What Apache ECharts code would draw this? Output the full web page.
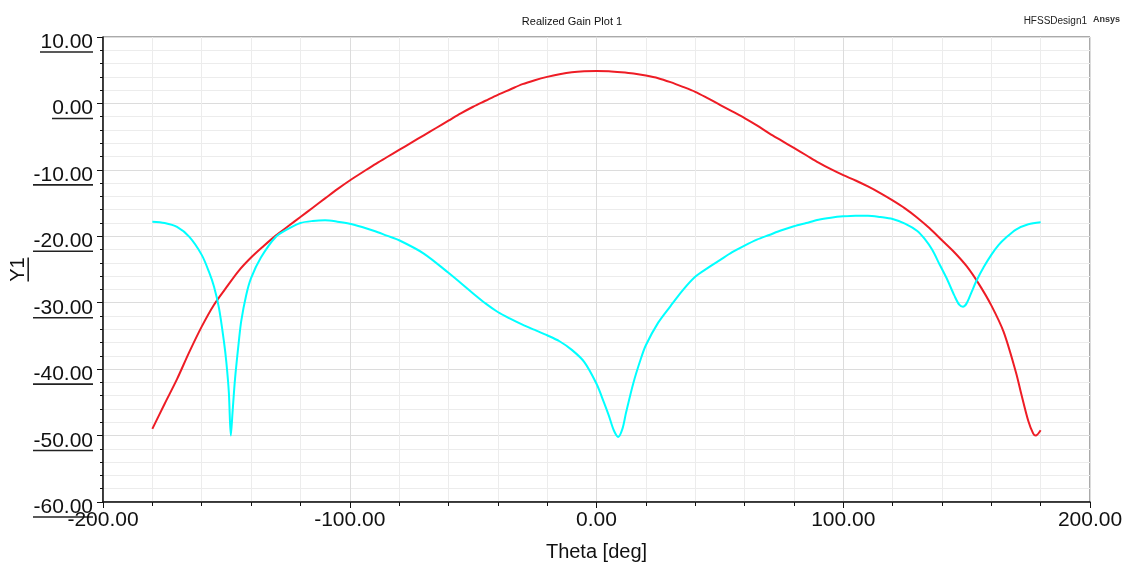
<!DOCTYPE html>
<html>
<head>
<meta charset="utf-8">
<script src="https://cdn.jsdelivr.net/npm/echarts@6/dist/echarts.min.js"></script>
<style>
html,body{margin:0;padding:0;background:#fff;}
#chart{width:1126px;height:565px;}
</style>
</head>
<body>
<div id="chart"></div>
<script>
// ---- data ----
const titleText = "Realized Gain Plot 1";
const xName = "Theta [deg]";
const yName = "Y1";

const redTheta = [-180,-175,-170,-165,-160,-155,-150,-145,-140,-135,-130,-125,-120,-115,-110,-105,-100,-95,-90,-85,-80,-75,-70,-65,-60,-55,-50,-45,-40,-35,-30,-25,-20,-15,-10,-5,0,5,10,15,20,25,30,35,40,45,50,55,60,65,70,75,80,85,90,95,100,105,110,115,120,125,130,135,140,145,150,155,160,165,170,172,175,177,178,180];
const redGain = [-49.0,-45.2,-41.5,-37.4,-33.6,-30.3,-27.7,-25.2,-23.2,-21.5,-19.9,-18.5,-17.1,-15.7,-14.3,-12.9,-11.6,-10.4,-9.2,-8.1,-7.0,-5.9,-4.8,-3.7,-2.6,-1.5,-0.5,0.4,1.3,2.1,2.9,3.5,4.0,4.4,4.7,4.85,4.9,4.85,4.7,4.5,4.2,3.8,3.2,2.5,1.75,0.8,-0.2,-1.2,-2.2,-3.3,-4.5,-5.6,-6.7,-7.8,-8.9,-9.9,-10.8,-11.6,-12.5,-13.5,-14.6,-15.8,-17.2,-18.8,-20.6,-22.4,-24.5,-27.2,-30.4,-34.4,-40.5,-43.5,-47.8,-49.7,-50.0,-49.2];

const cyanTheta = [-180,-175,-170,-165,-160,-157,-155,-153,-151,-150,-149,-148.2,-147.5,-146.5,-145,-144,-142,-140,-136,-130,-125,-120,-115,-110,-105,-100,-95,-90,-85,-80,-70,-60,-50,-45,-40,-35,-30,-25,-20,-15,-10,-5,0,3,5,7,8.8,10.5,12,15,18,20,25,30,35,40,45,50,55,60,65,70,75,80,85,90,95,100,105,110,115,120,125,130,133,136,139,142,145,147,148.5,150,152,154,157,160,163,166,170,175,180];
const cyanGain = [-17.8,-18.0,-18.6,-20.1,-22.8,-25.4,-27.6,-30.8,-35.8,-39.0,-43.5,-50.0,-46.5,-41.5,-36.0,-32.8,-28.9,-26.3,-23.2,-20.1,-18.9,-18.0,-17.7,-17.6,-17.8,-18.1,-18.6,-19.2,-19.9,-20.6,-22.6,-25.5,-28.6,-30.1,-31.4,-32.4,-33.3,-34.1,-34.9,-35.8,-37.1,-38.9,-42.2,-45.0,-47.0,-49.2,-50.2,-49.0,-46.5,-42.0,-38.4,-36.4,-33.0,-30.5,-28.1,-26.1,-24.8,-23.6,-22.4,-21.4,-20.5,-19.8,-19.1,-18.5,-18.0,-17.5,-17.2,-17.0,-16.9,-16.9,-17.1,-17.4,-18.1,-19.2,-20.4,-22.0,-24.2,-26.4,-28.9,-30.3,-30.6,-30.1,-28.4,-26.7,-24.6,-22.8,-21.3,-20.2,-19.0,-18.2,-17.9];

const yTicks = [-60,-50,-40,-30,-20,-10,0,10];

// ---- build ----
const FONT = '"Liberation Sans", Arial, sans-serif';
const cv = document.createElement('canvas').getContext('2d');
cv.font = '21px "Liberation Sans"';
const rich = { t: { fontSize: 21, fontFamily: FONT, color: '#111', lineHeight: 18, align: 'right' } };
yTicks.forEach((v, i) => {
  rich['u' + i] = { width: Math.round(cv.measureText(v.toFixed(2)).width), height: 1.6, backgroundColor: '#222', align: 'right' };
});
cv.font = '20px "Liberation Sans"';
const yNameW = Math.round(cv.measureText(yName).width);

const chart = echarts.init(document.getElementById('chart'));
chart.setOption({
  animation: false,
  backgroundColor: '#fff',
  title: [
    { text: titleText, left: 567, top: 11, textAlign: 'center',
      textStyle: { fontSize: 11, fontWeight: 'normal', color: '#111', fontFamily: FONT } },
    { text: 'HFSSDesign1', right: 34, top: 11,
      textStyle: { fontSize: 10, fontWeight: 'normal', color: '#222', fontFamily: FONT } },
    { text: 'Ansys', right: 1, top: 10,
      textStyle: { fontSize: 9, fontWeight: 'bold', color: '#333', fontFamily: FONT } }
  ],
  grid: { left: 103, right: 36, top: 37, bottom: 63, show: true, borderColor: '#555', borderWidth: 1,
          containLabel: false, outerBoundsMode: 'none' },
  xAxis: {
    type: 'value', min: -200, max: 200, interval: 100,
    name: xName, nameLocation: 'middle', nameGap: 40, nameMoveOverlap: false,
    nameTextStyle: { fontSize: 20, color: '#111', fontFamily: FONT },
    axisLine: { onZero: false, lineStyle: { color: '#111', width: 1.5 } },
    axisTick: { length: 6, lineStyle: { color: '#111' } },
    minorTick: { show: true, splitNumber: 5, length: 4, lineStyle: { color: '#111' } },
    splitLine: { lineStyle: { color: '#dcdcdc', width: 1 } },
    minorSplitLine: { show: true, lineStyle: { color: '#ececec', width: 1 } },
    axisLabel: { fontSize: 21, color: '#111', fontFamily: FONT, margin: 8,
      formatter: v => v.toFixed(2) }
  },
  yAxis: {
    type: 'value', min: -60, max: 10, interval: 10,
    name: '{n|' + yName + '}\n{nu|}', nameLocation: 'middle', nameGap: 74, nameRotate: 90,
    nameMoveOverlap: false,
    nameTextStyle: { rich: {
      n: { fontSize: 20, color: '#111', fontFamily: FONT, lineHeight: 18 },
      nu: { width: yNameW, height: 1.6, backgroundColor: '#222' } } },
    axisLine: { onZero: false, lineStyle: { color: '#111', width: 1.5 } },
    axisTick: { length: 6, lineStyle: { color: '#111' } },
    minorTick: { show: true, splitNumber: 5, length: 3, lineStyle: { color: '#111' } },
    splitLine: { lineStyle: { color: '#dcdcdc', width: 1 } },
    minorSplitLine: { show: true, lineStyle: { color: '#ececec', width: 1 } },
    axisLabel: { margin: 10, padding: [12, 0, 0, 0], rich: rich,
      formatter: v => {
        const i = yTicks.indexOf(Math.round(v));
        return '{t|' + v.toFixed(2) + '}\n{u' + i + '|}';
      } }
  },
  series: [
    { name: 'red', type: 'line', showSymbol: false, smooth: 0.3,
      lineStyle: { color: '#ee1c25', width: 2 }, itemStyle: { color: '#ee1c25' },
      data: redTheta.map((t, i) => [t, redGain[i]]) },
    { name: 'cyan', type: 'line', showSymbol: false, smooth: 0.3,
      lineStyle: { color: '#00ffff', width: 2 }, itemStyle: { color: '#00ffff' },
      data: cyanTheta.map((t, i) => [t, cyanGain[i]]) }
  ]
});
</script>
</body>
</html>
